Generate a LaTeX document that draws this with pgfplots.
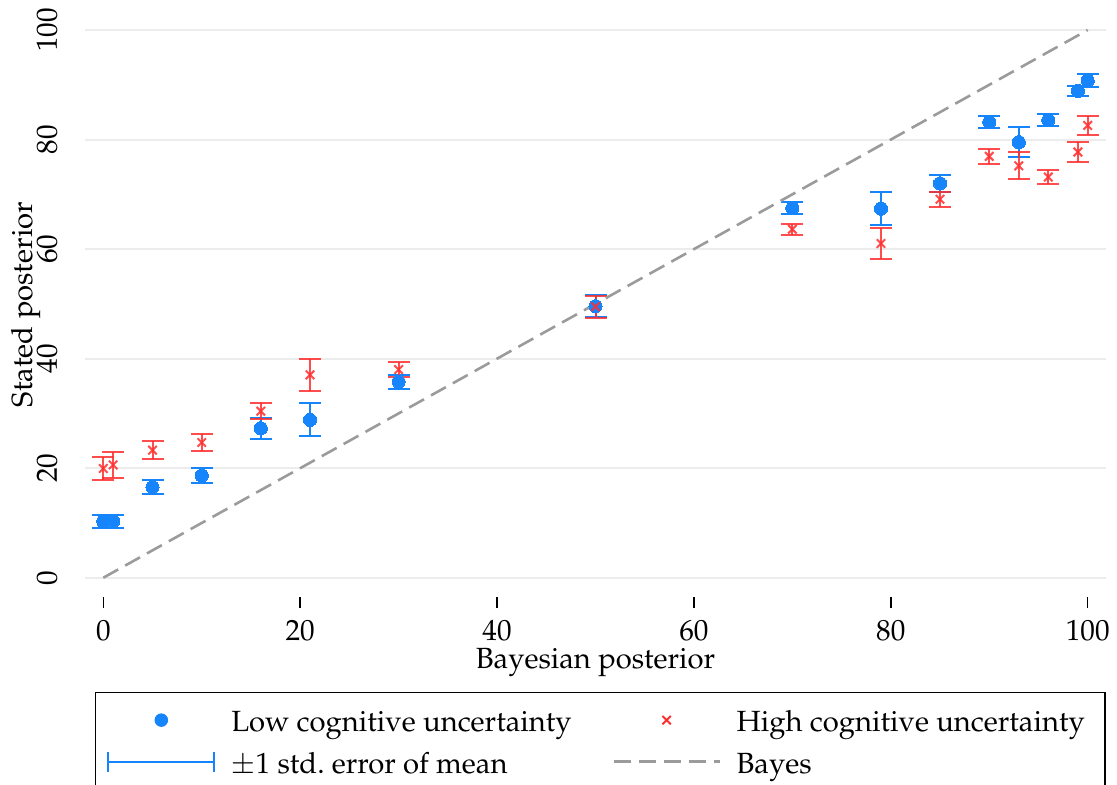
\documentclass[border=0pt]{standalone}
\usepackage[T1]{fontenc}
\usepackage{mathpazo}
\usepackage{pgfplots}
\pgfplotsset{compat=1.18}
\usepackage{pgfplotstable}

\definecolor{lowblue}{RGB}{22,132,250}
\definecolor{highred}{RGB}{255,45,45}
\definecolor{bayesgray}{RGB}{155,155,155}
\definecolor{gridgray}{RGB}{236,236,236}

% Bayesian posterior, mean stated posterior, standard error of the mean
\pgfplotstableread{
x   y      se
0   10.30  1.15
1   10.30  1.15
5   16.56  1.28
10  18.66  1.42
16  27.30  1.92
21  28.83  3.01
30  35.79  1.28
50  49.58  2.04
70  67.50  1.04
79  67.39  2.98
85  72.00  1.53
90  83.20  1.15
93  79.53  2.70
96  83.57  1.10
99  88.89  0.89
100 90.78  1.19
}\lowdata

\pgfplotstableread{
x   y      se
0   19.94  2.05
1   20.60  2.35
5   23.29  1.67
10  24.69  1.60
16  30.41  1.43
21  37.04  2.90
30  38.01  1.37
50  49.50  2.00
70  63.63  1.00
79  61.02  2.88
85  69.11  1.37
90  76.93  1.40
93  75.20  2.47
96  73.16  1.28
99  77.73  1.83
100 82.59  1.77
}\highdata

\begin{document}
\fontsize{14.6}{17.5}\selectfont
\begin{tikzpicture}
\begin{axis}[
  scale only axis,
  width=510.5pt, height=292.5pt,
  xmin=-1.86, xmax=101.86,
  ymin=-3.52, ymax=103.29,
  axis x line*=bottom, axis y line*=left,
  x axis line style={draw=none},
  y axis line style={draw=none},
  xtick={0,20,...,100}, ytick={0,20,...,100},
  tick align=outside,
  major tick length=5.5pt,
  xtick style={black, line width=0.75pt},
  ytick style={draw=none},
  ymajorgrids,
  major grid style={gridgray, line width=1pt},
  xticklabel style={anchor=base, yshift=-16pt},
  yticklabel style={xshift=-8.5pt, rotate=90, anchor=base},
  xlabel={Bayesian posterior},
  ylabel={Stated posterior},
  xlabel style={at={(axis description cs:0.5,-0.1214)}, anchor=base},
  ylabel style={at={(axis description cs:-0.0519,0.5)}, anchor=base},
  legend columns=2,
  legend style={
    at={(axis description cs:0.0105,-0.1636)}, anchor=north west,
    draw=black, line width=0.75pt, fill=white,
    inner xsep=5.8pt, inner ysep=9pt, outer sep=0pt,
    row sep=5pt, column sep=0pt,
    cells={anchor=base west},
    nodes={inner sep=0pt, text height=10.5pt, text depth=4.5pt},
  },
]

% low cognitive uncertainty
\addplot[forget plot, lowblue, only marks, mark=*, mark size=3.3pt,
  mark options={draw=lowblue, fill=lowblue, line width=0pt},
  error bars/.cd, y dir=both, y explicit,
  error bar style={lowblue, line width=1pt},
  error mark options={rotate=90, lowblue, mark size=5.5pt, line width=1pt}]
  table[x=x, y=y, y error=se] {\lowdata};

% high cognitive uncertainty
\addplot[forget plot, highred, only marks, mark=x, mark size=3pt,
  mark options={highred, line width=1pt, opacity=0.85},
  error bars/.cd, y dir=both, y explicit,
  error bar style={highred, line width=1pt, opacity=0.85},
  error mark options={rotate=90, highred, mark size=5.5pt, line width=1pt, opacity=0.85}]
  table[x=x, y=y, y error=se] {\highdata};

% Bayes benchmark
\addplot[forget plot, bayesgray, line width=1.3pt, dash pattern=on 8.5pt off 4pt]
  coordinates {(0,0) (100,100)};

\addlegendimage{legend image code/.code={
  \path[draw=none, fill=none] (0,0) rectangle (61.5pt,0);
  \fill[lowblue] (26.5pt,5.8pt) circle (3pt);}}
\addlegendentry{\makebox[190.5pt][l]{Low cognitive uncertainty}}
\addlegendimage{legend image code/.code={
  \path[draw=none, fill=none] (0,0) rectangle (61.5pt,0);
  \draw[highred, line width=0.9pt] (24.4pt,3.7pt) -- (28.6pt,7.9pt)
    (24.4pt,7.9pt) -- (28.6pt,3.7pt);}}
\addlegendentry{\makebox[178.5pt][l]{High cognitive uncertainty}}
\addlegendimage{legend image code/.code={
  \path[draw=none, fill=none] (0,0) rectangle (61.5pt,0);
  \draw[lowblue, line width=1pt] (0,5.8pt) -- (53pt,5.8pt)
    (0,0.8pt) -- (0,10.8pt) (53pt,0.8pt) -- (53pt,10.8pt);}}
\addlegendentry{\makebox[190.5pt][l]{$\pm$1 std.\ error of mean}}
\addlegendimage{legend image code/.code={
  \path[draw=none, fill=none] (0,0) rectangle (61.5pt,0);
  \draw[bayesgray, line width=1.3pt, dash pattern=on 8.5pt off 4pt]
    (0,5.8pt) -- (53pt,5.8pt);}}
\addlegendentry{\makebox[178.5pt][l]{Bayes}}
\end{axis}
\pgfresetboundingbox
\path (-42.5pt,-93.5pt) rectangle (516pt,298.5pt);
\end{tikzpicture}
\end{document}
